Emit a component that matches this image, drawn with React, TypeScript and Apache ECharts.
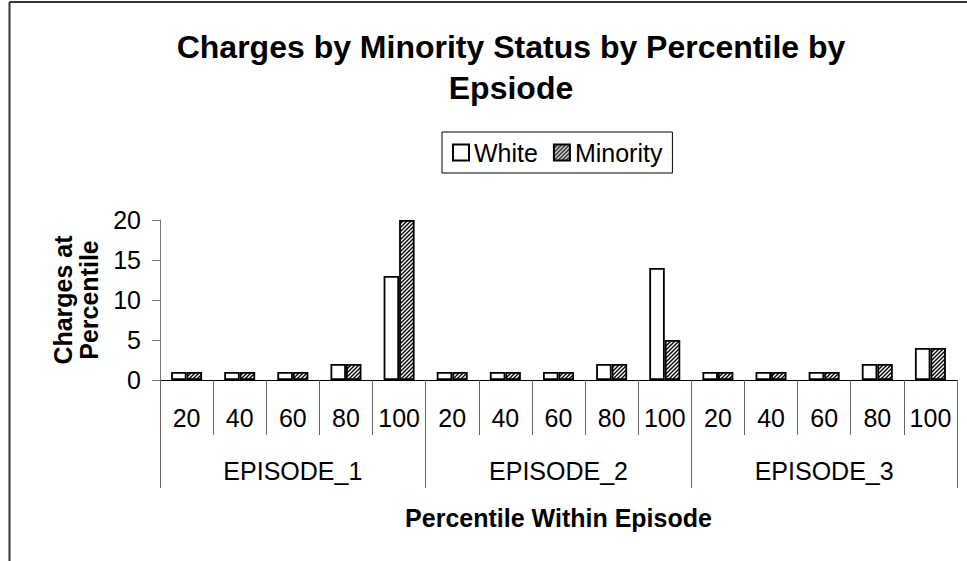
import React, { useEffect, useRef } from "react";
import * as echarts from "echarts";

const percentiles = ["20", "40", "60", "80", "100", "20", "40", "60", "80", "100", "20", "40", "60", "80", "100"];
const episodes = ["EPISODE_1", "EPISODE_2", "EPISODE_3"];
const whiteValues = [1, 1, 1, 2, 13, 1, 1, 1, 2, 14, 1, 1, 1, 2, 4];
const minorityValues = [1, 1, 1, 2, 20, 1, 1, 1, 2, 5, 1, 1, 1, 2, 4];
const seriesNames = ["White", "Minority"];
const titleText = "Charges by Minority Status by Percentile by\nEpsiode";
const xAxisTitle = "Percentile Within Episode";
const yAxisTitle = "Charges at\nPercentile";

const FONT = "'Liberation Sans', Arial, sans-serif";

const hatchSvg =
  '<svg xmlns="http://www.w3.org/2000/svg" width="4" height="4">' +
  '<rect width="4" height="4" fill="white"/>' +
  '<path d="M0,4 L4,0 M-1,1 L1,-1 M3,5 L5,3" stroke="black" stroke-width="1.4"/>' +
  "</svg>";
const hatchUrl = "data:image/svg+xml;charset=utf-8," + encodeURIComponent(hatchSvg);

export default function App() {
  const ref = useRef<HTMLDivElement>(null);
  useEffect(() => {
    if (!ref.current) return;
    const chart = echarts.init(ref.current, null, { renderer: "svg" });
    const hatch: any = { image: hatchUrl, repeat: "repeat", imageWidth: 4, imageHeight: 4 };
    chart.setOption({
      animation: false,
      backgroundColor: "#fff",
      textStyle: { fontFamily: FONT },
      graphic: [
        {
          type: "line",
          shape: { x1: 9.5, y1: 2, x2: 967, y2: 2 },
          style: { stroke: "#333", lineWidth: 2 },
        },
        {
          type: "line",
          shape: { x1: 9.5, y1: 2, x2: 9.5, y2: 561 },
          style: { stroke: "#333", lineWidth: 2 },
        },
        {
          type: "text",
          x: 511,
          y: 26.5,
          style: {
            text: titleText,
            fontFamily: FONT,
            fontSize: 32,
            fontWeight: "bold",
            lineHeight: 41,
            fill: "#000",
            align: "center",
            verticalAlign: "top",
          },
        },
      ],
      legend: {
        left: 442,
        top: 132,
        orient: "horizontal",
        data: seriesNames,
        itemWidth: 16,
        itemHeight: 16,
        itemGap: 15,
        icon: "rect",
        borderColor: "#000",
        borderWidth: 1,
        padding: [8, 10, 8, 10],
        textStyle: { fontSize: 25, color: "#000", fontFamily: FONT },
      },
      grid: { left: 160, top: 220, right: 10, bottom: 181, containLabel: false },
      xAxis: [
        {
          type: "category",
          data: percentiles,
          position: "bottom",
          boundaryGap: true,
          axisLine: { show: true, lineStyle: { color: "#000", width: 1 } },
          axisTick: { show: true, interval: 0, length: 55, lineStyle: { color: "#666" } },
          axisLabel: { interval: 0, fontSize: 25, color: "#000", margin: 25, fontFamily: FONT },
        },
        {
          type: "category",
          data: episodes,
          position: "bottom",
          offset: 0,
          boundaryGap: true,
          axisLine: { show: false },
          axisTick: { show: true, interval: 0, length: 108, lineStyle: { color: "#666" } },
          axisLabel: { interval: 0, fontSize: 25, color: "#000", margin: 78, fontFamily: FONT },
          name: xAxisTitle,
          nameLocation: "middle",
          nameGap: 125,
          nameTextStyle: { fontSize: 25, fontWeight: "bold", color: "#000", fontFamily: FONT },
        },
      ],
      yAxis: {
        type: "value",
        min: 0,
        max: 20,
        interval: 5,
        axisLine: { show: true, lineStyle: { color: "#777" } },
        axisTick: { show: true, length: 8, lineStyle: { color: "#777" } },
        splitLine: { show: false },
        axisLabel: { fontSize: 25, color: "#000", margin: 19, fontFamily: FONT },
        name: yAxisTitle,
        nameLocation: "middle",
        nameGap: 53,
        nameRotate: 90,
        nameTextStyle: { fontSize: 25, fontWeight: "bold", color: "#000", lineHeight: 26, fontFamily: FONT },
      },
      series: [
        {
          name: seriesNames[0],
          type: "bar",
          xAxisIndex: 0,
          data: whiteValues,
          barWidth: 15.5,
          barGap: "0%",
          itemStyle: { color: "#fff", borderColor: "#000", borderWidth: 1.8 },
        },
        {
          name: seriesNames[1],
          type: "bar",
          xAxisIndex: 0,
          data: minorityValues,
          barWidth: 15.5,
          barGap: "0%",
          itemStyle: { color: hatch, borderColor: "#000", borderWidth: 1.8 },
        },
      ],
    });
    return () => chart.dispose();
  }, []);
  return (
    <div
      ref={ref}
      style={{ position: "absolute", left: 0, top: 0, width: 967, height: 561, background: "#fff" }}
    />
  );
}
